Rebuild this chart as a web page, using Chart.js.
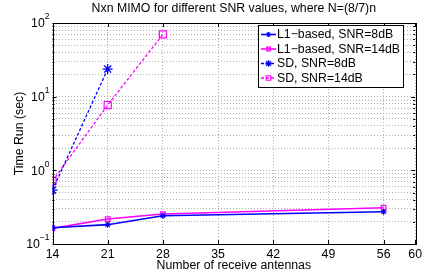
<!DOCTYPE html>
<html><head><meta charset="utf-8">
<script src="https://cdn.jsdelivr.net/npm/chart.js@4/dist/chart.umd.min.js"></script>
<style>html,body{margin:0;padding:0;background:#fff}#wrap{width:425px;height:275px}</style>
</head><body><div id="wrap"><canvas id="c" width="425" height="275"></canvas></div>
<script>
const antennas = [14, 21, 28, 56];
const sdAntennas8 = [14, 21];
const sdAntennas14 = [14, 21, 28];
const l1Snr8 = [0.166, 0.183, 0.242, 0.274];
const l1Snr14 = [0.163, 0.218, 0.255, 0.311];
const sdSnr8 = [0.54, 23.7];
const sdSnr14 = [0.72, 7.7, 70];
const xTicks = [14, 21, 28, 35, 42, 49, 56, 60];
const yDecades = [0.1, 1, 10, 100];
const yExponents = ['\u22121', '0', '1', '2'];
const seriesLabels = ['L1\u2212based, SNR=8dB', 'L1\u2212based, SNR=14dB', 'SD, SNR=8dB', 'SD, SNR=14dB'];
const titleText = 'Nxn MIMO for different SNR values, where N=(8/7)n';
const xTitle = 'Number of receive antennas';
const yTitle = 'Time Run (sec)';

const FONT = "'Liberation Sans', Arial, sans-serif";
const FS = 12.3;
const BLUE = '#0000ff', MAG = '#ff00ff';

function pts(xs, ys) { return xs.map((x, i) => ({x: x, y: ys[i]})); }

const datasets = [
  {label: seriesLabels[0], data: pts(antennas, l1Snr8), borderColor: BLUE, backgroundColor: BLUE, borderWidth: 1.6, pointStyle: 'star', pointRadius: 3, pointBorderWidth: 1.2},
  {label: seriesLabels[1], data: pts(antennas, l1Snr14), borderColor: MAG, backgroundColor: 'rgba(0,0,0,0)', borderWidth: 1.6, pointStyle: 'rect', pointRadius: 3.2, pointBorderWidth: 1.2},
  {label: seriesLabels[2], data: pts(sdAntennas8, sdSnr8), borderColor: BLUE, backgroundColor: BLUE, borderWidth: 1.3, borderDash: [3, 2], pointStyle: 'star', pointRadius: 5, pointBorderWidth: 1.3},
  {label: seriesLabels[3], data: pts(sdAntennas14, sdSnr14), borderColor: MAG, backgroundColor: 'rgba(0,0,0,0)', borderWidth: 1.3, borderDash: [3, 2], pointStyle: 'rect', pointRadius: 5, pointBorderWidth: 1.2}
];

const deco = {
  id: 'deco',
  afterDraw(chart) {
    const ctx = chart.ctx, a = chart.chartArea;
    const xs = chart.scales.x, ys = chart.scales.y;
    ctx.save();
    ctx.strokeStyle = '#000'; ctx.lineWidth = 1; ctx.setLineDash([]);
    ctx.strokeRect(Math.round(a.left) + 0.5, Math.round(a.top) + 0.5, Math.round(a.right - a.left), Math.round(a.bottom - a.top));
    ctx.beginPath();
    xTicks.forEach(v => {
      const px = Math.round(xs.getPixelForValue(v)) + 0.5;
      ctx.moveTo(px, a.bottom); ctx.lineTo(px, a.bottom - 4);
      ctx.moveTo(px, a.top); ctx.lineTo(px, a.top + 4);
    });
    ys.ticks.forEach(t => {
      const py = Math.round(ys.getPixelForValue(t.value)) + 0.5;
      const major = yDecades.some(d => Math.abs(d - t.value) < 1e-9);
      const L = major ? 4 : 2;
      ctx.moveTo(a.left, py); ctx.lineTo(a.left + L, py);
      ctx.moveTo(a.right, py); ctx.lineTo(a.right - L, py);
    });
    ctx.stroke();
    ctx.fillStyle = '#000';
    yDecades.forEach((d, i) => {
      const py = ys.getPixelForValue(d);
      ctx.textAlign = 'right'; ctx.textBaseline = 'middle';
      const ex = yExponents[i];
      ctx.font = '8.5px ' + FONT;
      const ew = ctx.measureText(ex).width;
      ctx.fillText(ex, a.left - 3, py - 6);
      ctx.font = FS + 'px ' + FONT;
      ctx.fillText('10', a.left - 3 - ew, py + 1);
    });
    ctx.font = FS + 'px ' + FONT; ctx.textAlign = 'center'; ctx.textBaseline = 'middle';
    ctx.fillText(titleText, (a.left + a.right) / 2, 9);
    ctx.fillText(xTitle, (a.left + a.right) / 2, 266);
    ctx.save();
    ctx.translate(20, (a.top + a.bottom) / 2);
    ctx.rotate(-Math.PI / 2);
    ctx.fillText(yTitle, 0, 0);
    ctx.restore();
    const lx = 258, ly = 25, lw = 145, lh = 62;
    ctx.fillStyle = '#fff'; ctx.fillRect(lx, ly, lw, lh);
    ctx.strokeStyle = '#000'; ctx.lineWidth = 1;
    ctx.strokeRect(lx + 0.5, ly + 0.5, lw, lh);
    chart.data.datasets.forEach((ds, i) => {
      const cy = ly + 9.5 + i * 14.5;
      ctx.strokeStyle = ds.borderColor; ctx.lineWidth = ds.borderWidth;
      ctx.setLineDash(ds.borderDash || []);
      ctx.beginPath(); ctx.moveTo(lx + 3, cy); ctx.lineTo(lx + 18, cy); ctx.stroke();
      ctx.setLineDash([]);
      ctx.fillStyle = ds.backgroundColor;
      ctx.strokeStyle = ds.borderColor; ctx.lineWidth = ds.pointBorderWidth;
      Chart.helpers.drawPoint(ctx, {pointStyle: ds.pointStyle, radius: i < 2 ? 2.6 : 3.2, borderWidth: ds.pointBorderWidth, rotation: 0}, lx + 10.5, cy);
      ctx.fillStyle = '#000'; ctx.font = FS + 'px ' + FONT;
      ctx.textAlign = 'left'; ctx.textBaseline = 'middle';
      ctx.fillText(ds.label, lx + 19, cy + 0.5);
    });
    ctx.restore();
  }
};

new Chart(document.getElementById('c'), {
  type: 'line',
  data: {datasets: datasets},
  options: {
    responsive: false, animation: false, devicePixelRatio: 1,
    layout: {padding: {top: 23, right: 8, left: 0, bottom: 0}},
    plugins: {legend: {display: false}, title: {display: false}, tooltip: {enabled: false}},
    elements: {line: {tension: 0}},
    scales: {
      x: {
        type: 'linear', min: 14, max: 60,
        afterBuildTicks: s => { s.ticks = xTicks.map(v => ({value: v})); },
        afterFit: s => { s.height = 31; },
        ticks: {autoSkip: false, maxRotation: 0, padding: 3, color: '#000', font: {family: FONT, size: FS}},
        grid: {color: '#b0b0b0', lineWidth: 1, drawTicks: false},
        border: {display: false, dash: [1, 2]}
      },
      y: {
        type: 'logarithmic', min: 0.1, max: 100,
        afterBuildTicks: s => {
          const t = [];
          [0.1, 1, 10].forEach(d => { for (let k = 1; k <= 9; k++) t.push({value: +(k * d).toPrecision(6)}); });
          t.push({value: 100});
          s.ticks = t;
        },
        afterFit: s => { s.width = 52.5; },
        ticks: {display: false},
        grid: {color: '#b0b0b0', lineWidth: 1, drawTicks: false},
        border: {display: false, dash: [1, 2]}
      }
    }
  },
  plugins: [deco]
});
</script>
</body></html>
